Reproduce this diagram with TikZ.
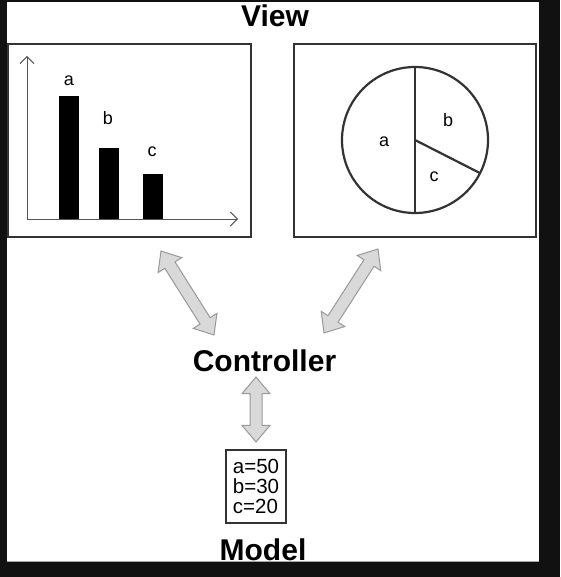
\documentclass[tikz,border=0pt]{standalone}
\usepackage{fontspec}
\setmainfont{Liberation Sans}
\usetikzlibrary{calc,shapes.arrows,arrows.meta}
\definecolor{frame}{HTML}{111111}
\definecolor{boxline}{HTML}{333333}
\definecolor{arrfill}{HTML}{D9D9D9}
\definecolor{arrline}{HTML}{999999}
\definecolor{axis}{HTML}{555555}
\tikzset{
  title/.style={font=\fontsize{30}{36}\selectfont\bfseries, anchor=base, inner sep=0},
  panel/.style={draw=boxline, line width=2pt},
  bar/.style={fill=black, draw=none},
  lbl/.style={font=\fontsize{18}{20}\selectfont, inner sep=0},
  axisline/.style={draw=axis, line width=1pt, -{Straight Barb[length=7pt,width=14pt]}},
  darrow/.style={shape=double arrow, draw=arrline, fill=arrfill, line width=1pt,
    inner sep=0pt, inner ysep=5.5pt, minimum width=0pt,
    double arrow head extend=8pt, double arrow tip angle=80},
  pieline/.style={draw=boxline, line width=2.2pt},
}
\begin{document}
\begin{tikzpicture}[x=1pt,y=-1pt]
\useasboundingbox (0,0) rectangle (560,577);
% frame
\fill[frame] (0,0) rectangle (560,577);
\fill[white] (7,2.5) rectangle (539,562);
\draw[gray!70, line width=0.8pt] (7,561.6) -- (539,561.6);

% titles
\node[title] (view) at (275,27) {View};
\node[title] (ctrl) at (264.5,371) {Controller};

% left panel: bar chart
\draw[panel] (8,44) rectangle (251,237);
\coordinate (orig) at (27,219);
\coordinate (ytip) at (27,56);
\coordinate (xtip) at (238,219);
\draw[axisline] (orig) -- (ytip);
\draw[axisline] (orig) -- (xtip);
\fill[bar] (59,96) rectangle (79,219);
\fill[bar] (99,148) rectangle (119,219);
\fill[bar] (143,174) rectangle (163,219);
\node[lbl] (bla) at (69,81) {a};
\node[lbl] (blb) at (108,118) {b};
\node[lbl] (blc) at (152,152) {c};

% right panel: pie chart
\draw[panel] (294,44) rectangle (536,237);
\coordinate (pc) at (415,140);
\draw[pieline] (pc) circle[radius=73];
\draw[pieline] (415,67) -- (415,213);
\draw[pieline] (pc) -- ($(pc)+(65,33.1)$);
\node[lbl] (pla) at (384,142) {a};
\node[lbl] (plb) at (448,120) {b};
\node[lbl] (plc) at (434,177) {c};

% model
\node[draw=boxline, line width=1.6pt, minimum width=60pt, minimum height=73pt,
      align=left, inner sep=0pt, font=\fontsize{20.5}{20}\selectfont] (model) at (256,486.5)
  {a=50\\b=30\\c=20};

% arrows
\coordinate (l1) at (161,251);
\coordinate (l2) at (214,335);
\coordinate (r1) at (378,249);
\coordinate (r2) at (324,333);
\coordinate (m1) at (256,377);
\coordinate (m2) at (256,442);
\path let \p1=($(l2)-(l1)$), \n1={atan2(\y1,\x1)}, \n2={veclen(\x1,\y1)} in
  node[darrow, rotate=\n1, minimum height=\n2] (arrL) at ($(l1)!0.5!(l2)$) {};
\path let \p1=($(r2)-(r1)$), \n1={atan2(\y1,\x1)}, \n2={veclen(\x1,\y1)} in
  node[darrow, rotate=\n1, minimum height=\n2] (arrR) at ($(r1)!0.5!(r2)$) {};
\path let \p1=($(m2)-(m1)$), \n1={atan2(\y1,\x1)}, \n2={veclen(\x1,\y1)} in
  node[darrow, rotate=\n1, minimum height=\n2] (arrM) at ($(m1)!0.5!(m2)$) {};

% model title (partly hidden by frame)
\node[title] (modelt) at (263,560) {Model};
\fill[frame] (0,562) rectangle (560,577);
\end{tikzpicture}
\end{document}
